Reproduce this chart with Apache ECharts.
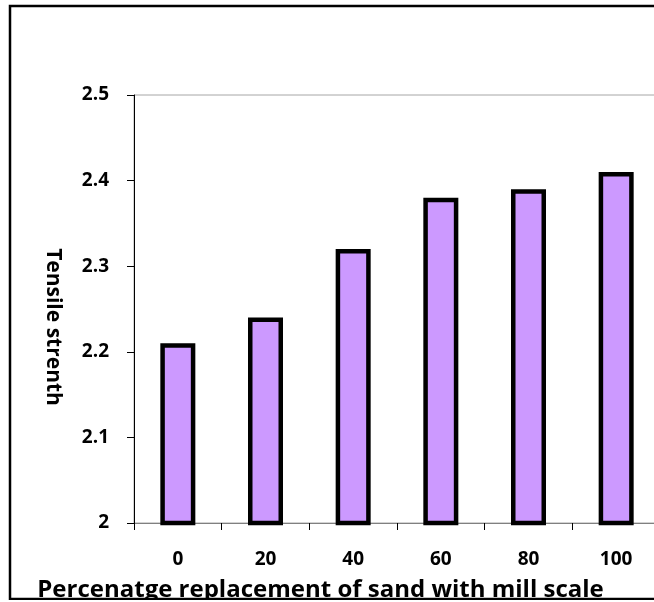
<!DOCTYPE html>
<html>
<head>
<meta charset="utf-8">
<script src="https://cdn.jsdelivr.net/npm/echarts@6/dist/echarts.min.js"></script>
<style>
html,body{margin:0;padding:0;background:#fff;overflow:hidden;width:654px;height:602px;}
#chart{position:absolute;left:0;top:0;width:680px;height:600px;}
</style>
</head>
<body>
<div id="chart"></div>
<script>
// Data
const categories = ['0', '20', '40', '60', '80', '100'];
const tensileStrength = [2.21, 2.24, 2.32, 2.38, 2.39, 2.41];
const yMin = 2, yMax = 2.5, yStep = 0.1;
const xTitle = 'Percenatge replacement of sand with mill scale';
const yTitle = 'Tensile strenth';

const FONT = '"Open Sans", "DejaVu Sans", sans-serif';
const chart = echarts.init(document.getElementById('chart'), null, {renderer: 'canvas'});
chart.setOption({
  animation: false,
  backgroundColor: '#ffffff',
  grid: {
    left: 134, top: 95, width: 526, height: 428,
    containLabel: false,
    outerBoundsMode: 'none',
    show: true, borderColor: '#a6a6a6', borderWidth: 1, backgroundColor: 'transparent'
  },
  xAxis: {
    type: 'category',
    data: categories,
    boundaryGap: true,
    axisLine: {show: true, lineStyle: {color: '#808080', width: 1}},
    axisTick: {show: true, alignWithLabel: false, interval: 0, length: 7, lineStyle: {color: '#000', width: 1}},
    axisLabel: {interval: 0, margin: 27, color: '#000', fontFamily: FONT, fontWeight: 'bold', fontSize: 19},
    splitLine: {show: false},
    name: xTitle,
    nameLocation: 'middle',
    nameGap: 55,
    nameTextStyle: {color: '#000', fontFamily: FONT, fontWeight: 'bold', fontSize: 24, padding: [0, 153, 0, 0]}
  },
  yAxis: {
    type: 'value',
    min: yMin, max: yMax, interval: yStep,
    axisLine: {show: true, lineStyle: {color: '#000', width: 1}},
    axisTick: {show: true, length: 7, lineStyle: {color: '#000', width: 1}},
    axisLabel: {margin: 25, color: '#000', fontFamily: FONT, fontWeight: 'bold', fontSize: 19,
      formatter: v => String(+v.toFixed(1))},
    splitLine: {show: false},
    name: yTitle,
    nameLocation: 'middle',
    nameRotate: -90,
    nameGap: 71,
    nameTextStyle: {color: '#000', fontFamily: FONT, fontWeight: 'bold', fontSize: 21, padding: [0, 0, 0, 36]}
  },
  series: [{
    type: 'bar',
    data: tensileStrength,
    barWidth: 35,
    itemStyle: {color: '#cc99ff', borderColor: '#000', borderWidth: 4.5},
    silent: true
  }],
  graphic: [{
    type: 'rect',
    z: 100,
    silent: true,
    shape: {x: 10, y: 6, width: 700, height: 593},
    style: {fill: 'none', stroke: '#000', lineWidth: 2.5}
  }]
});
</script>
</body>
</html>
